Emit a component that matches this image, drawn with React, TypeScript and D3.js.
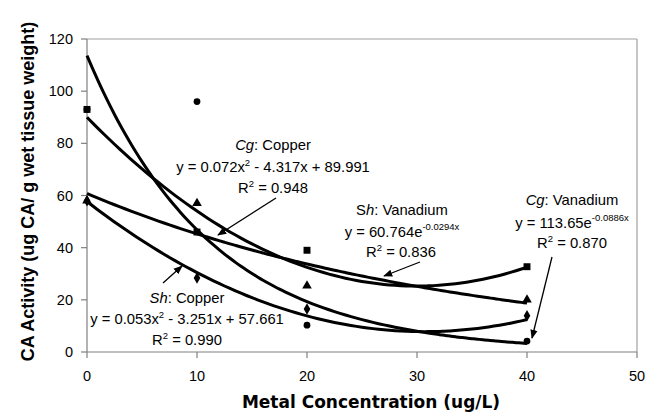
import React from 'react';
import * as d3 from 'd3';

// measured points, ug CA / g wet tissue weight
const concentrations = [0, 10, 20, 40];
const cgCopper = [93, 46, 39, 32.7];      // squares
const cgVanadium = [93, 96, 10.3, 4.2];   // circles
const shCopper = [58, 28.4, 16.5, 13.9];  // diamonds
const shVanadium = [58, 57, 25.4, 20];    // triangles

// trendline coefficients as printed on the chart
const cgCopperFit = [0.072, -4.317, 89.991];
const shCopperFit = [0.053, -3.251, 57.661];
const shVanadiumFit = [60.764, -0.0294];
const cgVanadiumFit = [113.65, -0.0886];

const xTicks = [0, 10, 20, 30, 40, 50];
const yTicks = [0, 20, 40, 60, 80, 100, 120];

const W = 658, H = 414;
const margin = {top: 39, right: 21, bottom: 62, left: 87};

export default function App() {
  const x = d3.scaleLinear().domain([0, 50]).range([margin.left, W - margin.right]);
  const y = d3.scaleLinear().domain([0, 120]).range([H - margin.bottom, margin.top]);

  const xs = d3.range(0, 40.01, 0.5);
  const line = d3.line<[number, number]>().x(d => x(d[0])).y(d => y(d[1])).curve(d3.curveMonotoneX);
  const quad = (c: number[]) => xs.map(v => [v, c[0] * v * v + c[1] * v + c[2]] as [number, number]);
  const expo = (c: number[]) => xs.map(v => [v, c[0] * Math.exp(c[1] * v)] as [number, number]);

  const fits = [quad(cgCopperFit), quad(shCopperFit), expo(shVanadiumFit), expo(cgVanadiumFit)];

  const sym = (type: d3.SymbolType, size: number) => d3.symbol().type(type).size(size)()!;
  const markers = [
    {vals: cgVanadium, path: sym(d3.symbolCircle, 36)},
    {vals: shVanadium, path: sym(d3.symbolTriangle, 40)},
    {vals: shCopper, path: sym(d3.symbolDiamond, 38)},
    {vals: cgCopper, path: sym(d3.symbolSquare, 48)},
  ];

  const font = 'Arial, "Liberation Sans", Helvetica, sans-serif';
  const sub = {fontSize: 9.5};

  const arrows = [
    [276, 198, 218, 235],
    [163, 283, 182, 266],
    [420, 262, 384, 276],
    [552, 257, 532, 338],
  ];

  return (
    <svg width={W} height={H} style={{position: 'absolute', left: 0, top: 0}} fontFamily={font}>
      <defs>
        <marker id="ah" viewBox="0 0 10 10" refX="9" refY="5" markerWidth="7" markerHeight="7" orient="auto">
          <path d="M0,1 L10,5 L0,9 z" fill="#000" />
        </marker>
      </defs>
      <rect width={W} height={H} fill="#fff" />
      {/* frame */}
      <line x1={x(0)} x2={x(50)} y1={y(120)} y2={y(120)} stroke="#a0a0a0" strokeWidth={1.2} />
      <line x1={x(50)} x2={x(50)} y1={y(120)} y2={y(0)} stroke="#a0a0a0" strokeWidth={1.2} />
      <line x1={x(0)} x2={x(0)} y1={y(120)} y2={y(0)} stroke="#808080" strokeWidth={1.2} />
      <line x1={x(0)} x2={x(50)} y1={y(0)} y2={y(0)} stroke="#808080" strokeWidth={1.2} />
      {yTicks.map(t => (
        <g key={'y' + t}>
          <line x1={x(0) - 6} x2={x(0)} y1={y(t)} y2={y(t)} stroke="#808080" strokeWidth={1.2} />
          <text x={x(0) - 14} y={y(t)} dy="0.35em" textAnchor="end" fontSize={14.5}>{t}</text>
        </g>
      ))}
      {xTicks.map(t => (
        <g key={'x' + t}>
          <line x1={x(t)} x2={x(t)} y1={y(0)} y2={y(0) + 6} stroke="#808080" strokeWidth={1.2} />
          <text x={x(t)} y={y(0) + 29} textAnchor="middle" fontSize={14.5}>{t}</text>
        </g>
      ))}
      <text x={371} y={408} textAnchor="middle" fontSize={17} fontWeight="bold" fontFamily='"DejaVu Sans", sans-serif'>
        Metal Concentration (ug/L)
      </text>
      <text transform={`translate(34,${(y(0) + y(120)) / 2 - 4}) rotate(-90)`} textAnchor="middle" fontSize={18} fontWeight="bold">
        CA Activity (ug CA/ g wet tissue weight)
      </text>

      {fits.map((f, i) => (
        <path key={'f' + i} d={line(f)!} fill="none" stroke="#000" strokeWidth={3} />
      ))}
      {markers.map((m, i) => m.vals.map((v, j) => (
        <path key={`m${i}-${j}`} d={m.path} transform={`translate(${x(concentrations[j])},${y(v)})`} fill="#000" />
      )))}

      {arrows.map((a, i) => (
        <line key={'a' + i} x1={a[0]} y1={a[1]} x2={a[2]} y2={a[3]} stroke="#000" strokeWidth={1.3} markerEnd="url(#ah)" />
      ))}

      <g fontSize={14.8} textAnchor="middle">
        <text x={273} y={150}><tspan fontStyle="italic">Cg</tspan>: Copper</text>
        <text x={273} y={172}>y = 0.072x<tspan dy={-6} style={sub}>2</tspan><tspan dy={6}> - 4.317x + 89.991</tspan></text>
        <text x={273} y={193}>R<tspan dy={-6} style={sub}>2</tspan><tspan dy={6}> = 0.948</tspan></text>

        <text x={187} y={303}><tspan fontStyle="italic">Sh</tspan>: Copper</text>
        <text x={187} y={324}>y = 0.053x<tspan dy={-6} style={sub}>2</tspan><tspan dy={6}> - 3.251x + 57.661</tspan></text>
        <text x={187} y={345}>R<tspan dy={-6} style={sub}>2</tspan><tspan dy={6}> = 0.990</tspan></text>

        <text x={402} y={215}>S<tspan fontStyle="italic">h</tspan>: Vanadium</text>
        <text x={402} y={237}>y = 60.764e<tspan dy={-7} style={sub}>-0.0294x</tspan></text>
        <text x={401} y={257}>R<tspan dy={-6} style={sub}>2</tspan><tspan dy={6}> = 0.836</tspan></text>

        <text x={572} y={205}><tspan fontStyle="italic">Cg</tspan>: Vanadium</text>
        <text x={572} y={228}>y = 113.65e<tspan dy={-7} style={sub}>-0.0886x</tspan></text>
        <text x={572} y={248}>R<tspan dy={-6} style={sub}>2</tspan><tspan dy={6}> = 0.870</tspan></text>
      </g>
    </svg>
  );
}
